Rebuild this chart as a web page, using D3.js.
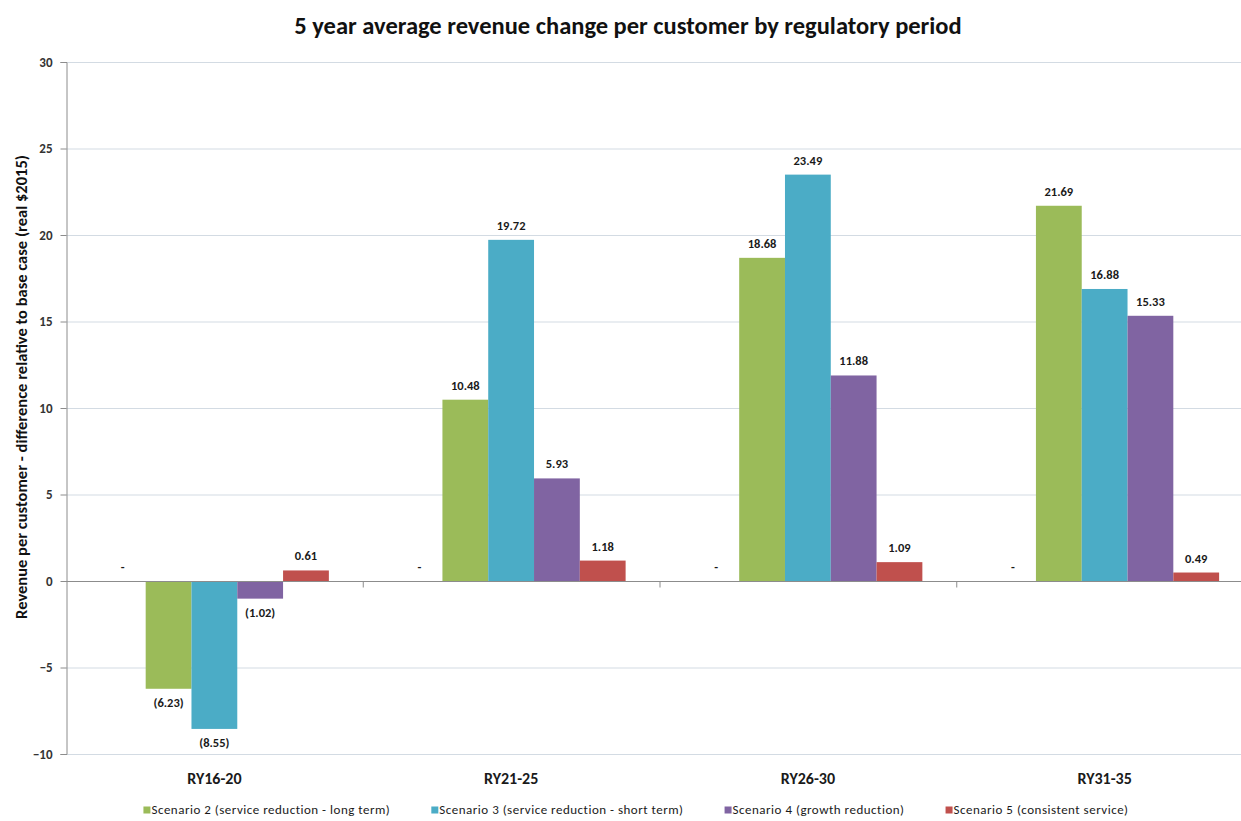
<!DOCTYPE html>
<html>
<head>
<meta charset="utf-8">
<script src="https://cdn.jsdelivr.net/npm/d3@7/dist/d3.min.js"></script>
<style>
  html, body { margin: 0; padding: 0; background: #fff; }
  svg { display: block; font-family: Carlito, Calibri, Lato, sans-serif; }
</style>
</head>
<body>
<svg id="chart" width="1241" height="821"></svg>
<script>
// Regulatory periods on the category axis
const periods = ["RY16-20", "RY21-25", "RY26-30", "RY31-35"];

// Series (the base case is the zero reference and is not in the legend)
const seriesNames = [
  "Base case",
  "Scenario 2 (service reduction - long term)",
  "Scenario 3 (service reduction - short term)",
  "Scenario 4 (growth reduction)",
  "Scenario 5 (consistent service)"
];
const baseCase  = [0, 0, 0, 0];
const scenario2 = [-6.23, 10.48, 18.68, 21.69];
const scenario3 = [-8.55, 19.72, 23.49, 16.88];
const scenario4 = [-1.02, 5.93, 11.88, 15.33];
const scenario5 = [0.61, 1.18, 1.09, 0.49];
const seriesValues = [baseCase, scenario2, scenario3, scenario4, scenario5];
const seriesColors = ["#4F81BD", "#9BBB59", "#4BACC6", "#8064A2", "#C0504D"];

// Value axis ticks
const yTicks = [-10, -5, 0, 5, 10, 15, 20, 25, 30];

const svg = d3.select("#chart");
const plot = { left: 66, right: 1253, top: 62, bottom: 754 };

const y = d3.scaleLinear().domain([-10, 30]).range([plot.bottom, plot.top]);
const x0 = d3.scaleBand().domain(periods).range([plot.left, plot.right]).padding(0);
const x1 = d3.scaleBand().domain(d3.range(seriesNames.length))
  .range([0, x0.bandwidth()]).paddingInner(0).paddingOuter(0.74);

// Accounting-style number format: negatives in brackets, zero as a dash
const fmt = v => v === 0 ? "-" : (v < 0 ? "(" + d3.format(".2f")(-v) + ")" : d3.format(".2f")(v));

// Gridlines
svg.append("g")
  .selectAll("line")
  .data(yTicks.filter(t => t !== 0))
  .join("line")
  .attr("x1", plot.left).attr("x2", plot.right)
  .attr("y1", d => y(d) + 0.5).attr("y2", d => y(d) + 0.5)
  .attr("stroke", "#d3dbe3").attr("stroke-width", 1.2);

// Value axis
const yAxis = svg.append("g")
  .attr("transform", `translate(${plot.left + 0.5},0)`)
  .call(d3.axisLeft(y).tickValues(yTicks).tickSize(6).tickPadding(8).tickFormat(d3.format("d")));
yAxis.select(".domain").attr("stroke", "#8c8c8c");
yAxis.selectAll(".tick line").attr("stroke", "#8c8c8c");
yAxis.selectAll(".tick text")
  .attr("font-size", 13).attr("font-weight", 600).attr("fill", "#333")
  .style("font-family", "Carlito, Calibri, Lato, sans-serif");

// Bars
const groups = svg.append("g")
  .selectAll("g")
  .data(periods)
  .join("g")
  .attr("transform", d => `translate(${x0(d)},0)`);

groups.selectAll("rect")
  .data((p, i) => seriesValues.map((vals, s) => ({ s, v: vals[i] })))
  .join("rect")
  .attr("x", d => x1(d.s))
  .attr("width", x1.bandwidth())
  .attr("y", d => y(Math.max(0, d.v)))
  .attr("height", d => Math.abs(y(d.v) - y(0)))
  .attr("fill", d => seriesColors[d.s]);

// Data labels
groups.selectAll("text")
  .data((p, i) => seriesValues.map((vals, s) => ({ s, v: vals[i] })))
  .join("text")
  .attr("x", d => x1(d.s) + x1.bandwidth() / 2)
  .attr("y", d => d.v < 0 ? y(d.v) + 18 : y(d.v) - 10)
  .attr("text-anchor", "middle")
  .attr("font-size", 12.5).attr("font-weight", 700).attr("fill", "#1a1a1a")
  .text(d => fmt(d.v));

// Category axis along zero
const xAxis = svg.append("g")
  .attr("transform", `translate(0,${y(0) + 0.5})`);
xAxis.append("line")
  .attr("x1", plot.left).attr("x2", plot.right)
  .attr("stroke", "#8c8c8c");
xAxis.selectAll("line.tick")
  .data(periods.slice(1))
  .join("line")
  .attr("class", "tick")
  .attr("x1", d => x0(d) + 0.5).attr("x2", d => x0(d) + 0.5)
  .attr("y1", 0).attr("y2", 6)
  .attr("stroke", "#8c8c8c");

// Category labels below the plot
svg.append("g")
  .selectAll("text")
  .data(periods)
  .join("text")
  .attr("x", d => x0(d) + x0.bandwidth() / 2)
  .attr("y", 784)
  .attr("text-anchor", "middle")
  .attr("font-size", 16).attr("font-weight", 700).attr("fill", "#1a1a1a")
  .text(d => d);

// Title
svg.append("text")
  .attr("x", 628).attr("y", 34)
  .attr("text-anchor", "middle")
  .attr("font-size", 24.5).attr("font-weight", 700).attr("fill", "#111")
  .text("5 year average revenue change per customer by regulatory period");

// Value axis title
svg.append("text")
  .attr("transform", "translate(27,387) rotate(-90)")
  .attr("text-anchor", "middle")
  .attr("font-size", 16.5).attr("font-weight", 700).attr("fill", "#111")
  .text("Revenue per customer - difference relative to base case (real $2015)");

// Legend (scenario series only)
const legend = svg.append("g").attr("transform", "translate(0,814)");
const items = legend.selectAll("g")
  .data(d3.range(1, seriesNames.length))
  .join("g");
items.append("rect")
  .attr("width", 7).attr("height", 7).attr("y", -7.5)
  .attr("fill", s => seriesColors[s]);
items.append("text")
  .attr("x", 8).attr("y", 0)
  .attr("font-size", 13).attr("letter-spacing", 0.5).attr("fill", "#1a1a1a")
  .text(s => seriesNames[s]);

const gap = 41;
let widths = [];
items.each(function () { widths.push(this.getBBox().width); });
const total = d3.sum(widths) + gap * (widths.length - 1);
let cx = 636 - total / 2;
items.attr("transform", (s, i) => {
  const t = `translate(${cx},0)`;
  cx += widths[i] + gap;
  return t;
});
</script>
</body>
</html>
